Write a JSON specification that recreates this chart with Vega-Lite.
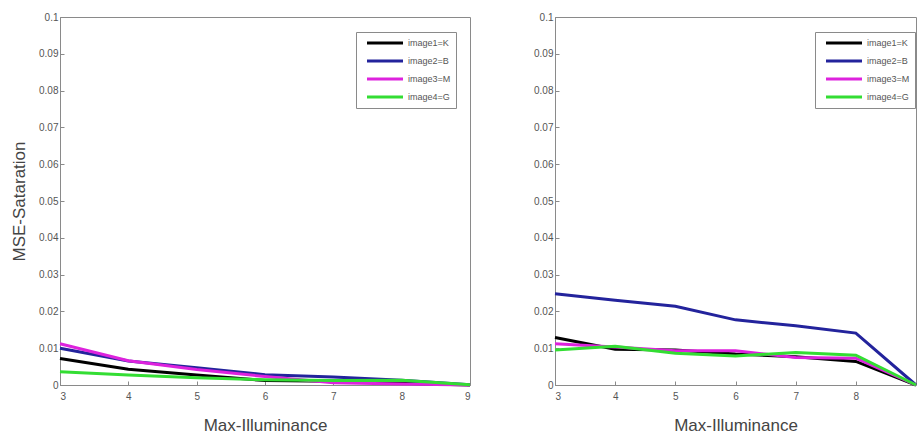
{
  "$schema": "https://vega.github.io/schema/vega-lite/v6.json",
  "padding": {"left": 10, "top": 11, "right": 0, "bottom": 0},
  "background": "white",
  "config": {
    "font": "Liberation Sans",
    "view": {"stroke": "#8a8a8a", "strokeWidth": 1},
    "axis": {
      "labelColor": "#555555",
      "labelFontSize": 10,
      "titleColor": "#444444",
      "titleFontSize": 17,
      "titleFontWeight": "normal",
      "domainColor": "#8a8a8a",
      "tickColor": "#8a8a8a",
      "grid": false
    },
    "legend": {
      "labelColor": "#555555",
      "labelFontSize": 9
    }
  },
  "datasets": {
    "d": [
      {"panel": "L", "x": 3, "series": "image1=K", "y": 0.0072},
      {"panel": "L", "x": 4, "series": "image1=K", "y": 0.0043},
      {"panel": "L", "x": 5, "series": "image1=K", "y": 0.0027},
      {"panel": "L", "x": 6, "series": "image1=K", "y": 0.0012},
      {"panel": "L", "x": 7, "series": "image1=K", "y": 0.0010},
      {"panel": "L", "x": 8, "series": "image1=K", "y": 0.0005},
      {"panel": "L", "x": 9, "series": "image1=K", "y": 0.0},
      {"panel": "L", "x": 3, "series": "image2=B", "y": 0.0100},
      {"panel": "L", "x": 4, "series": "image2=B", "y": 0.0065},
      {"panel": "L", "x": 5, "series": "image2=B", "y": 0.0047},
      {"panel": "L", "x": 6, "series": "image2=B", "y": 0.0028},
      {"panel": "L", "x": 7, "series": "image2=B", "y": 0.0022},
      {"panel": "L", "x": 8, "series": "image2=B", "y": 0.0013},
      {"panel": "L", "x": 9, "series": "image2=B", "y": 0.0001},
      {"panel": "L", "x": 3, "series": "image3=M", "y": 0.0112},
      {"panel": "L", "x": 4, "series": "image3=M", "y": 0.0066},
      {"panel": "L", "x": 5, "series": "image3=M", "y": 0.0042},
      {"panel": "L", "x": 6, "series": "image3=M", "y": 0.0023},
      {"panel": "L", "x": 7, "series": "image3=M", "y": 0.0006},
      {"panel": "L", "x": 8, "series": "image3=M", "y": 0.0003},
      {"panel": "L", "x": 9, "series": "image3=M", "y": 0.0},
      {"panel": "L", "x": 3, "series": "image4=G", "y": 0.0036},
      {"panel": "L", "x": 4, "series": "image4=G", "y": 0.0027},
      {"panel": "L", "x": 5, "series": "image4=G", "y": 0.0020},
      {"panel": "L", "x": 6, "series": "image4=G", "y": 0.0014},
      {"panel": "L", "x": 7, "series": "image4=G", "y": 0.0012},
      {"panel": "L", "x": 8, "series": "image4=G", "y": 0.0013},
      {"panel": "L", "x": 9, "series": "image4=G", "y": 0.0001},
      {"panel": "R", "x": 3, "series": "image1=K", "y": 0.0129},
      {"panel": "R", "x": 4, "series": "image1=K", "y": 0.0097},
      {"panel": "R", "x": 5, "series": "image1=K", "y": 0.0095},
      {"panel": "R", "x": 6, "series": "image1=K", "y": 0.0084},
      {"panel": "R", "x": 7, "series": "image1=K", "y": 0.0077},
      {"panel": "R", "x": 8, "series": "image1=K", "y": 0.0064},
      {"panel": "R", "x": 9, "series": "image1=K", "y": 0.0},
      {"panel": "R", "x": 3, "series": "image2=B", "y": 0.0248},
      {"panel": "R", "x": 4, "series": "image2=B", "y": 0.0230},
      {"panel": "R", "x": 5, "series": "image2=B", "y": 0.0214},
      {"panel": "R", "x": 6, "series": "image2=B", "y": 0.0177},
      {"panel": "R", "x": 7, "series": "image2=B", "y": 0.0161},
      {"panel": "R", "x": 8, "series": "image2=B", "y": 0.0141},
      {"panel": "R", "x": 9, "series": "image2=B", "y": 0.0},
      {"panel": "R", "x": 3, "series": "image3=M", "y": 0.0112},
      {"panel": "R", "x": 4, "series": "image3=M", "y": 0.0103},
      {"panel": "R", "x": 5, "series": "image3=M", "y": 0.0093},
      {"panel": "R", "x": 6, "series": "image3=M", "y": 0.0093},
      {"panel": "R", "x": 7, "series": "image3=M", "y": 0.0075},
      {"panel": "R", "x": 8, "series": "image3=M", "y": 0.0073},
      {"panel": "R", "x": 9, "series": "image3=M", "y": 0.0},
      {"panel": "R", "x": 3, "series": "image4=G", "y": 0.0095},
      {"panel": "R", "x": 4, "series": "image4=G", "y": 0.0105},
      {"panel": "R", "x": 5, "series": "image4=G", "y": 0.0086},
      {"panel": "R", "x": 6, "series": "image4=G", "y": 0.0079},
      {"panel": "R", "x": 7, "series": "image4=G", "y": 0.0088},
      {"panel": "R", "x": 8, "series": "image4=G", "y": 0.0081},
      {"panel": "R", "x": 9, "series": "image4=G", "y": 0.0}
    ]
  },
  "spacing": 56,
  "resolve": {"scale": {"color": "independent"}, "legend": {"color": "independent"}},
  "hconcat": [
    {
      "width": 410,
      "height": 368,
      "data": {"name": "d"},
      "transform": [{"filter": "datum.panel === 'L'"}],
      "mark": {"type": "line", "strokeWidth": 3},
      "encoding": {
        "x": {
          "field": "x", "type": "quantitative",
          "scale": {"domain": [3, 9], "nice": false},
          "axis": {"title": "Max-Illuminance", "values": [3, 4, 5, 6, 7, 8, 9], "format": "d", "tickSize": -4, "labelPadding": 10, "titlePadding": 16}
        },
        "y": {
          "field": "y", "type": "quantitative",
          "scale": {"domain": [0, 0.1], "nice": false},
          "axis": {"title": "MSE-Sataration", "values": [0, 0.01, 0.02, 0.03, 0.04, 0.05, 0.06, 0.07, 0.08, 0.09, 0.1], "format": "~g", "tickSize": -4, "labelPadding": 6, "titlePadding": 10}
        },
        "color": {
          "field": "series", "type": "nominal",
          "scale": {"domain": ["image1=K", "image2=B", "image3=M", "image4=G"], "range": ["#000000", "#23239c", "#dd22dd", "#33dd33"]},
          "legend": {"title": null, "orient": "none", "legendX": 296, "legendY": 15, "symbolType": "M-4,0H4", "symbolSize": 81, "symbolOffset": 18, "symbolStrokeWidth": 3, "strokeColor": "#8a8a8a", "fillColor": "white", "padding": 5, "rowPadding": 6, "labelOffset": 17}
        }
      }
    },
    {
      "width": 361,
      "height": 368,
      "data": {"name": "d"},
      "transform": [{"filter": "datum.panel === 'R'"}],
      "mark": {"type": "line", "strokeWidth": 3},
      "encoding": {
        "x": {
          "field": "x", "type": "quantitative",
          "scale": {"domain": [3, 9], "nice": false},
          "axis": {"title": "Max-Illuminance", "values": [3, 4, 5, 6, 7, 8], "format": "d", "tickSize": -4, "labelPadding": 10, "titlePadding": 16}
        },
        "y": {
          "field": "y", "type": "quantitative",
          "scale": {"domain": [0, 0.1], "nice": false},
          "axis": {"title": null, "values": [0, 0.01, 0.02, 0.03, 0.04, 0.05, 0.06, 0.07, 0.08, 0.09, 0.1], "format": "~g", "tickSize": -4, "labelPadding": 6}
        },
        "color": {
          "field": "series", "type": "nominal",
          "scale": {"domain": ["image1=K", "image2=B", "image3=M", "image4=G"], "range": ["#000000", "#23239c", "#dd22dd", "#33dd33"]},
          "legend": {"title": null, "orient": "none", "legendX": 260, "legendY": 15, "symbolType": "M-4,0H4", "symbolSize": 81, "symbolOffset": 18, "symbolStrokeWidth": 3, "strokeColor": "#8a8a8a", "fillColor": "white", "padding": 5, "rowPadding": 6, "labelOffset": 17}
        }
      }
    }
  ]
}
